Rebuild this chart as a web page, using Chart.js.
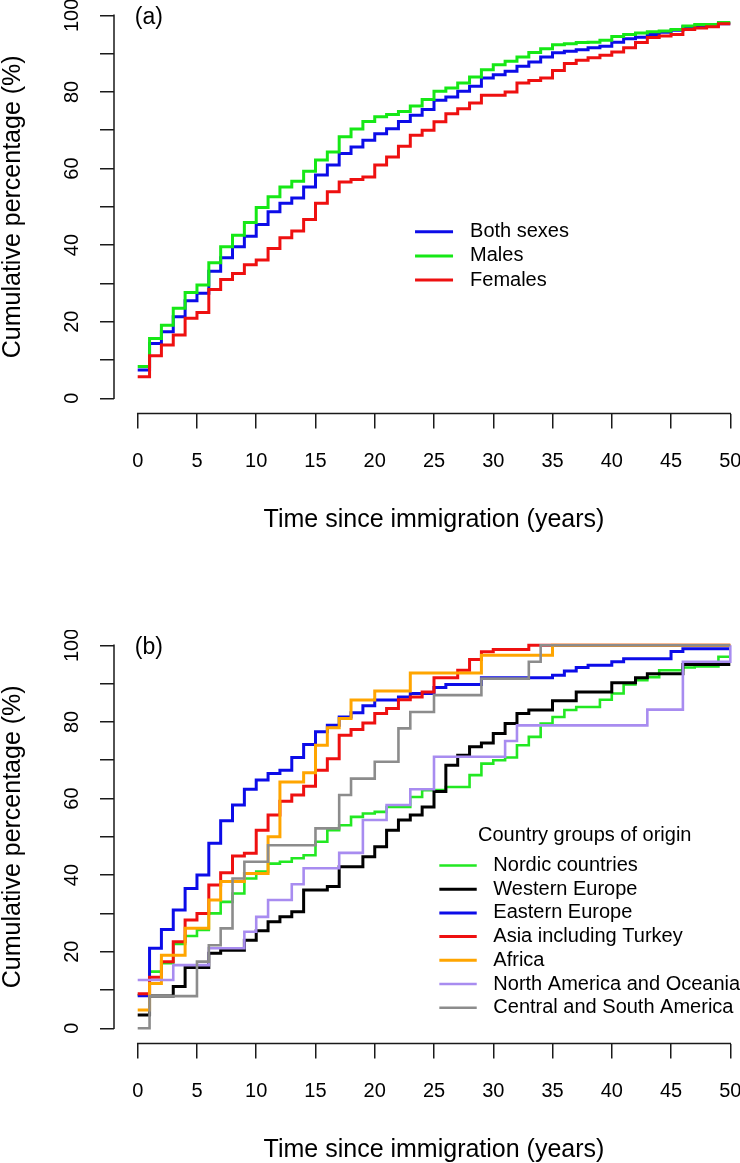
<!DOCTYPE html>
<html><head><meta charset="utf-8">
<script src="https://cdn.jsdelivr.net/npm/chart.js@4.4.1/dist/chart.umd.min.js"></script>
<style>
html,body{margin:0;padding:0;background:#fff;overflow:hidden;width:740px;height:1163px;}
.panel{position:absolute;left:0;width:754px;height:630px;}
#pa{top:0}
#pb{top:630px}
</style></head><body>
<div class="panel" id="pa"><canvas id="ca" width="754" height="630"></canvas></div>
<div class="panel" id="pb"><canvas id="cb" width="754" height="630"></canvas></div>
<script>
// ---------- data ----------
const years = [0,1,2,3,4,5,6,7,8,9,10,11,12,13,14,15,16,17,18,19,20,21,22,23,24,25,26,27,28,29,30,31,32,33,34,35,36,37,38,39,40,41,42,43,44,45,46,47,48,49,50];
const xTickValues = [0,5,10,15,20,25,30,35,40,45,50];
const xTickLabels = ['0','5','10','15','20','25','30','35','40','45','50'];
const yTickValues = [0,10,20,30,40,50,60,70,80,90,100];
const yTickLabels = ['0','','20','','40','','60','','80','','100'];
const xTitle = 'Time since immigration (years)';
const yTitle = 'Cumulative percentage (%)';

// Panel (a)
const sexLabels = ['Both sexes','Males','Females'];
const bothSexes = [7.4,14.3,17.4,21.3,25.5,27.4,33.2,36.7,39.6,42.3,45.4,48.7,50.9,52.3,55.2,58.3,60.9,63.9,65.6,67.4,69.1,70.4,72.3,73.9,75.4,77.8,78.7,80.2,81.5,83.6,84.5,85.4,86.7,87.8,89.1,90.2,90.6,91.0,91.5,91.9,93.0,93.9,94.3,95.0,95.6,96.1,97.0,97.2,97.4,97.8,97.8];
const males = [8.3,15.6,19.1,23.5,27.6,29.6,35.4,39.6,42.6,45.9,49.8,52.6,55.2,56.7,59.3,62.2,64.3,68.3,70.3,72.3,73.5,74.1,74.9,76.3,78.0,80.2,81.0,82.3,83.9,85.8,87.1,88.0,89.1,90.3,91.3,92.3,92.6,92.9,93.0,93.5,94.5,95.0,95.4,95.7,95.9,96.3,97.2,97.6,97.6,98.1,98.1];
const females = [5.6,11.1,13.9,16.5,20.9,22.4,28.4,31.0,32.6,34.9,36.1,39.1,41.9,43.7,46.7,50.9,53.9,56.5,57.1,57.8,60.9,63.0,65.8,68.7,70.0,72.2,74.3,75.6,77.1,79.1,79.1,80.0,82.3,83.0,83.6,85.6,87.4,88.3,88.9,89.6,90.4,91.5,92.9,94.2,94.6,95.0,96.3,96.7,97.0,97.8,97.8];

// Panel (b)
const originTitle = 'Country groups of origin';
const originLabels = ['Nordic countries','Western Europe','Eastern Europe','Asia including Turkey','Africa','North America and Oceania','Central and South America'];
const nordic = [8.7,14.8,17.0,22.0,24.1,25.7,30.0,33.0,35.2,39.1,40.9,43.0,43.5,44.4,45.2,48.7,51.7,53.0,55.2,56.1,56.5,57.8,57.8,60.4,62.2,62.2,63.0,63.0,66.1,69.1,70.0,70.7,73.9,76.1,79.6,81.3,83.1,83.9,83.9,85.8,87.4,89.8,90.9,91.7,93.5,93.5,94.2,94.5,94.5,97.0,97.0];
const westernEurope = [3.5,8.4,8.4,10.9,15.9,15.9,19.6,20.4,20.4,23.0,25.5,27.8,29.1,30.4,36.1,36.1,37.0,42.2,42.2,44.8,47.4,51.7,54.4,55.7,57.8,61.8,68.7,71.3,73.5,74.5,77.0,79.6,82.2,83.1,83.1,85.5,85.5,87.8,87.8,87.8,90.2,90.2,91.5,92.6,92.6,92.6,95.0,95.0,95.0,95.0,95.0];
const easternEurope = [8.5,20.9,25.8,30.9,36.5,40.0,48.3,54.2,58.3,62.4,64.8,66.5,67.4,70.7,74.1,77.4,79.1,81.3,82.4,84.2,85.7,85.7,86.5,87.4,87.4,89.0,89.8,89.8,89.8,91.5,91.5,91.5,91.5,91.5,91.5,92.2,93.3,94.2,94.8,94.8,95.7,96.5,96.5,96.5,96.5,98.4,99.1,99.1,99.1,99.1,99.1];
const asiaTurkey = [9.0,13.3,17.4,22.6,28.3,30.0,37.4,40.6,45.0,45.7,51.7,55.7,59.3,60.9,63.2,67.4,70.4,76.5,78.0,79.7,82.2,83.5,85.8,86.5,87.8,91.5,91.5,93.5,96.3,98.3,98.9,98.9,98.9,100,100,100,100,100,100,100,100,100,100,100,100,100,100,100,100,100,100];
const africa = [4.8,11.7,19.1,19.1,26.1,26.1,33.5,38.3,38.3,40.4,40.4,50.0,64.3,64.3,66.7,73.9,78.5,80.9,85.7,85.7,88.1,88.1,88.1,92.8,92.8,92.8,92.8,92.8,92.8,97.4,97.4,97.4,97.4,97.4,97.4,100,100,100,100,100,100,100,100,100,100,100,100,100,100,100,100];
const northAmOceania = [12.6,12.6,12.6,16.5,16.5,16.5,20.9,20.9,20.9,25.2,29.1,33.5,33.5,37.6,41.8,41.8,41.8,45.8,45.8,54.4,54.4,58.3,58.3,62.4,62.4,70.9,70.9,70.9,70.9,70.9,70.9,75.0,79.1,79.1,79.1,79.1,79.1,79.1,79.1,79.1,79.1,79.1,79.1,83.2,83.2,83.2,95.7,95.7,95.7,95.7,100];
const centralSouthAm = [0,8.4,8.4,8.4,8.4,17.4,21.7,26.1,39.1,43.5,43.5,47.8,47.8,47.8,47.8,52.2,52.2,60.9,65.2,65.2,69.6,69.6,78.3,82.6,82.6,87.0,87.0,87.0,87.0,91.3,91.3,91.3,91.3,95.7,100,100,100,100,100,100,100,100,100,100,100,100,100,100,100,100,100];

// ---------- styling ----------
const FONT = '"Liberation Sans", Arial, Helvetica, sans-serif';
Chart.defaults.font.family = FONT;
Chart.defaults.color = '#000';
const CANVAS_H = 630;
const AREA_BOTTOM = 413.6;
const AXIS_COLOR = '#1a1a1a';

const rAxisLines = {
  id: 'rAxisLines',
  afterDraw(chart) {
    const {ctx, chartArea: a, scales: {x, y}} = chart;
    ctx.save();
    ctx.strokeStyle = AXIS_COLOR; ctx.lineWidth = 1.5; ctx.lineCap = 'square';
    ctx.beginPath();
    ctx.moveTo(x.getPixelForValue(xTickValues[0]), a.bottom);
    ctx.lineTo(x.getPixelForValue(xTickValues[xTickValues.length - 1]), a.bottom);
    ctx.moveTo(a.left, y.getPixelForValue(yTickValues[0]));
    ctx.lineTo(a.left, y.getPixelForValue(yTickValues[yTickValues.length - 1]));
    ctx.stroke();
    ctx.restore();
  }
};

const rLegend = {
  id: 'rLegend',
  afterDraw(chart, args, o) {
    const {ctx, scales: {x, y}} = chart;
    ctx.save();
    ctx.textBaseline = 'middle'; ctx.textAlign = 'left'; ctx.fillStyle = '#000';
    if (o.panel) {
      ctx.font = '23px ' + FONT;
      ctx.fillText(o.panel, x.getPixelForValue(o.panelAt[0]), y.getPixelForValue(o.panelAt[1]));
    }
    ctx.font = '20px ' + FONT;
    const x0 = x.getPixelForValue(o.at[0]);
    let yy = y.getPixelForValue(o.at[1]);
    if (o.title) ctx.fillText(o.title, x0 + o.titleDx, yy - o.titleGap);
    chart.data.datasets.forEach(ds => {
      ctx.strokeStyle = ds.borderColor; ctx.lineWidth = ds.borderWidth;
      ctx.beginPath(); ctx.moveTo(x0, yy); ctx.lineTo(x0 + o.lineLen, yy); ctx.stroke();
      ctx.fillStyle = '#000';
      ctx.fillText(ds.label, x0 + o.textDx, yy);
      yy += o.rowGap;
    });
    ctx.restore();
  }
};

function makeDatasets(labels, series, colors, widths) {
  const n = series.length;
  return series.map((vals, i) => ({
    label: labels[i],
    data: years.map((t, k) => ({x: t, y: vals[k]})),
    borderColor: colors[i],
    borderWidth: widths[i],
    stepped: 'before',
    pointRadius: 0,
    fill: false,
    order: n - i
  }));
}

function scalesCfg() {
  return {
    x: {
      type: 'linear', min: -2, max: 52,
      afterBuildTicks: s => { s.ticks = xTickValues.map(v => ({value: v})); },
      ticks: { callback: (v, i) => xTickLabels[i], font: {size: 20}, color: '#000', padding: 21, minRotation: 0, maxRotation: 0, autoSkip: false },
      grid: { drawOnChartArea: false, drawTicks: true, tickLength: 15, tickColor: AXIS_COLOR, tickWidth: 1.5, lineWidth: 1.5 },
      border: { display: false },
      title: { display: true, text: xTitle, font: {size: 25, lineHeight: 1.2}, color: '#000', padding: {top: 0, bottom: 95} },
      afterFit: s => { s.height = CANVAS_H - AREA_BOTTOM; s.paddingLeft = 0; s.paddingRight = 0; s.paddingTop = 0; s.paddingBottom = 0; }
    },
    y: {
      type: 'linear', min: -4, max: 104,
      afterBuildTicks: s => { s.ticks = yTickValues.map(v => ({value: v})); },
      ticks: { callback: (v, i) => yTickLabels[i], font: {size: 20}, color: '#000', padding: 11.3, minRotation: 90, maxRotation: 90, crossAlign: 'center', autoSkip: false },
      grid: { drawOnChartArea: false, drawTicks: true, tickLength: 14, tickColor: AXIS_COLOR, tickWidth: 1.5, lineWidth: 1.5 },
      border: { display: false },
      title: { display: true, text: yTitle, font: {size: 25, lineHeight: 1}, color: '#000', padding: {top: 0.5, bottom: 0} },
      afterFit: s => { s.width = 114; s.paddingLeft = 0; s.paddingRight = 0; s.paddingTop = 0; s.paddingBottom = 0; }
    }
  };
}

new Chart(document.getElementById('ca'), {
  type: 'line',
  data: { datasets: makeDatasets(sexLabels, [bothSexes, males, females], ['#0c0ce8', '#16e816', '#ee1010'], [3, 3, 3]) },
  options: {
    responsive: false, animation: false, layout: {padding: 0},
    scales: scalesCfg(),
    plugins: {
      legend: {display: false}, tooltip: {enabled: false},
      rLegend: { panel: '(a)', panelAt: [-0.25, 99.3], at: [23.4, 43.5], rowGap: 24.2, lineLen: 38, textDx: 55 }
    }
  },
  plugins: [rAxisLines, rLegend]
});

new Chart(document.getElementById('cb'), {
  type: 'line',
  data: { datasets: makeDatasets(originLabels, [nordic, westernEurope, easternEurope, asiaTurkey, africa, northAmOceania, centralSouthAm],
    ['#22e822', '#000000', '#0c0ce8', '#ee1010', '#ffa500', '#a88cf0', '#8c8c8c'], [2.6, 3, 3, 3, 3, 2.6, 2.6]) },
  options: {
    responsive: false, animation: false, layout: {padding: 0},
    scales: scalesCfg(),
    plugins: {
      legend: {display: false}, tooltip: {enabled: false},
      rLegend: { panel: '(b)', panelAt: [-0.25, 99.3], title: originTitle, titleDx: 38.7, titleGap: 30.5, at: [25.45, 42.5], rowGap: 23.7, lineLen: 37.4, textDx: 54 }
    }
  },
  plugins: [rAxisLines, rLegend]
});
</script>
</body></html>
